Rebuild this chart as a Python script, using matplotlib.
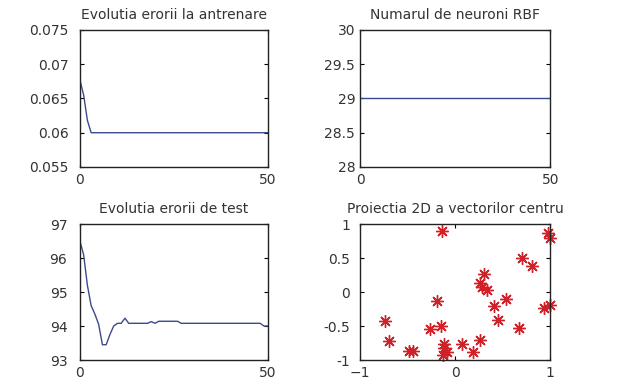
#Import the libraries
import numpy as np
import matplotlib.pyplot as plt

plt.rcParams['font.family'] = ['DejaVu Sans']

#Training error per epoch
epochs = list(range(0, 51))
train_err = [0.0677, 0.0655, 0.0618] + [0.06] * 48

#Number of RBF neurons per epoch
neurons = [29] * 51

#Test error per epoch
test_err = [96.5, 96.1, 95.2, 94.6, 94.35, 94.05, 93.45, 93.45, 93.75, 94.0,
            94.08, 94.08, 94.23, 94.08, 94.08, 94.08, 94.08, 94.08, 94.08, 94.13,
            94.08, 94.14, 94.14, 94.14, 94.14, 94.14, 94.14, 94.08, 94.08, 94.08,
            94.08, 94.08, 94.08, 94.08, 94.08, 94.08, 94.08, 94.08, 94.08, 94.08,
            94.08, 94.08, 94.08, 94.08, 94.08, 94.08, 94.08, 94.08, 94.08, 94.0,
            94.0]

#2D projection of the centre vectors
cx = [-0.14, 0.98, 1.0, 0.70, 0.81, 0.30, 0.26, 0.28, 0.33, -0.19,
      0.53, 0.41, 0.45, 1.0, 0.93, 0.67, -0.74, -0.70, -0.26, -0.15,
      0.26, 0.07, -0.12, -0.12, -0.09, -0.13, -0.49, -0.44, 0.19]
cy = [0.90, 0.87, 0.80, 0.50, 0.38, 0.27, 0.14, 0.08, 0.03, -0.13,
      -0.10, -0.20, -0.41, -0.19, -0.24, -0.53, -0.42, -0.72, -0.54, -0.50,
      -0.70, -0.76, -0.76, -0.83, -0.88, -0.93, -0.87, -0.87, -0.88]

line_color = '#3c4a8c'
text_color = '#333333'

fig = plt.figure(figsize=(6.24, 3.83), dpi=100)
ax1 = fig.add_axes([0.128, 0.564, 0.301, 0.358])
ax2 = fig.add_axes([0.577, 0.564, 0.305, 0.358])
ax3 = fig.add_axes([0.128, 0.060, 0.301, 0.355])
ax4 = fig.add_axes([0.577, 0.060, 0.305, 0.355])

def matlab_style(ax, title, ypad):
    ax.set_title(title, fontsize=10, color=text_color, pad=8)
    ax.tick_params(direction='in', length=3, width=0.8, top=True, right=True,
                   labelsize=10, labelcolor=text_color)
    ax.tick_params(axis='x', pad=4)
    ax.tick_params(axis='y', pad=ypad)
    for s in ax.spines.values():
        s.set_linewidth(1.0)
        s.set_color('#222222')

#Training error
ax1.plot(epochs, train_err, color=line_color, lw=1)
ax1.set_xlim(0, 50)
ax1.set_ylim(0.055, 0.075)
ax1.set_xticks([0, 50])
ax1.set_yticks([0.055, 0.06, 0.065, 0.07, 0.075])
ax1.set_yticklabels(['0.055', '0.06', '0.065', '0.07', '0.075'])
matlab_style(ax1, 'Evolutia erorii la antrenare', 8)

#Number of neurons
ax2.plot(epochs, neurons, color=line_color, lw=1)
ax2.set_xlim(0, 50)
ax2.set_ylim(28, 30)
ax2.set_xticks([0, 50])
ax2.set_yticks([28, 28.5, 29, 29.5, 30])
ax2.set_yticklabels(['28', '28.5', '29', '29.5', '30'])
matlab_style(ax2, 'Numarul de neuroni RBF', 3.5)

#Test error
ax3.plot(epochs, test_err, color=line_color, lw=1)
ax3.set_xlim(0, 50)
ax3.set_ylim(93, 97)
ax3.set_xticks([0, 50])
ax3.set_yticks([93, 94, 95, 96, 97])
matlab_style(ax3, 'Evolutia erorii de test', 9)

#Centre vectors
ax4.plot(cx, cy, linestyle='none', marker=(8, 2, 0), color='#d02028',
         markersize=9, markeredgewidth=1.0, clip_on=False)
ax4.set_xlim(-1, 1)
ax4.set_ylim(-1, 1)
ax4.set_xticks([-1, 0, 1])
ax4.set_yticks([-1, -0.5, 0, 0.5, 1])
ax4.set_yticklabels(['-1', '-0.5', '0', '0.5', '1'])
matlab_style(ax4, 'Proiectia 2D a vectorilor centru', 7)

plt.savefig('out.png', dpi=100)
